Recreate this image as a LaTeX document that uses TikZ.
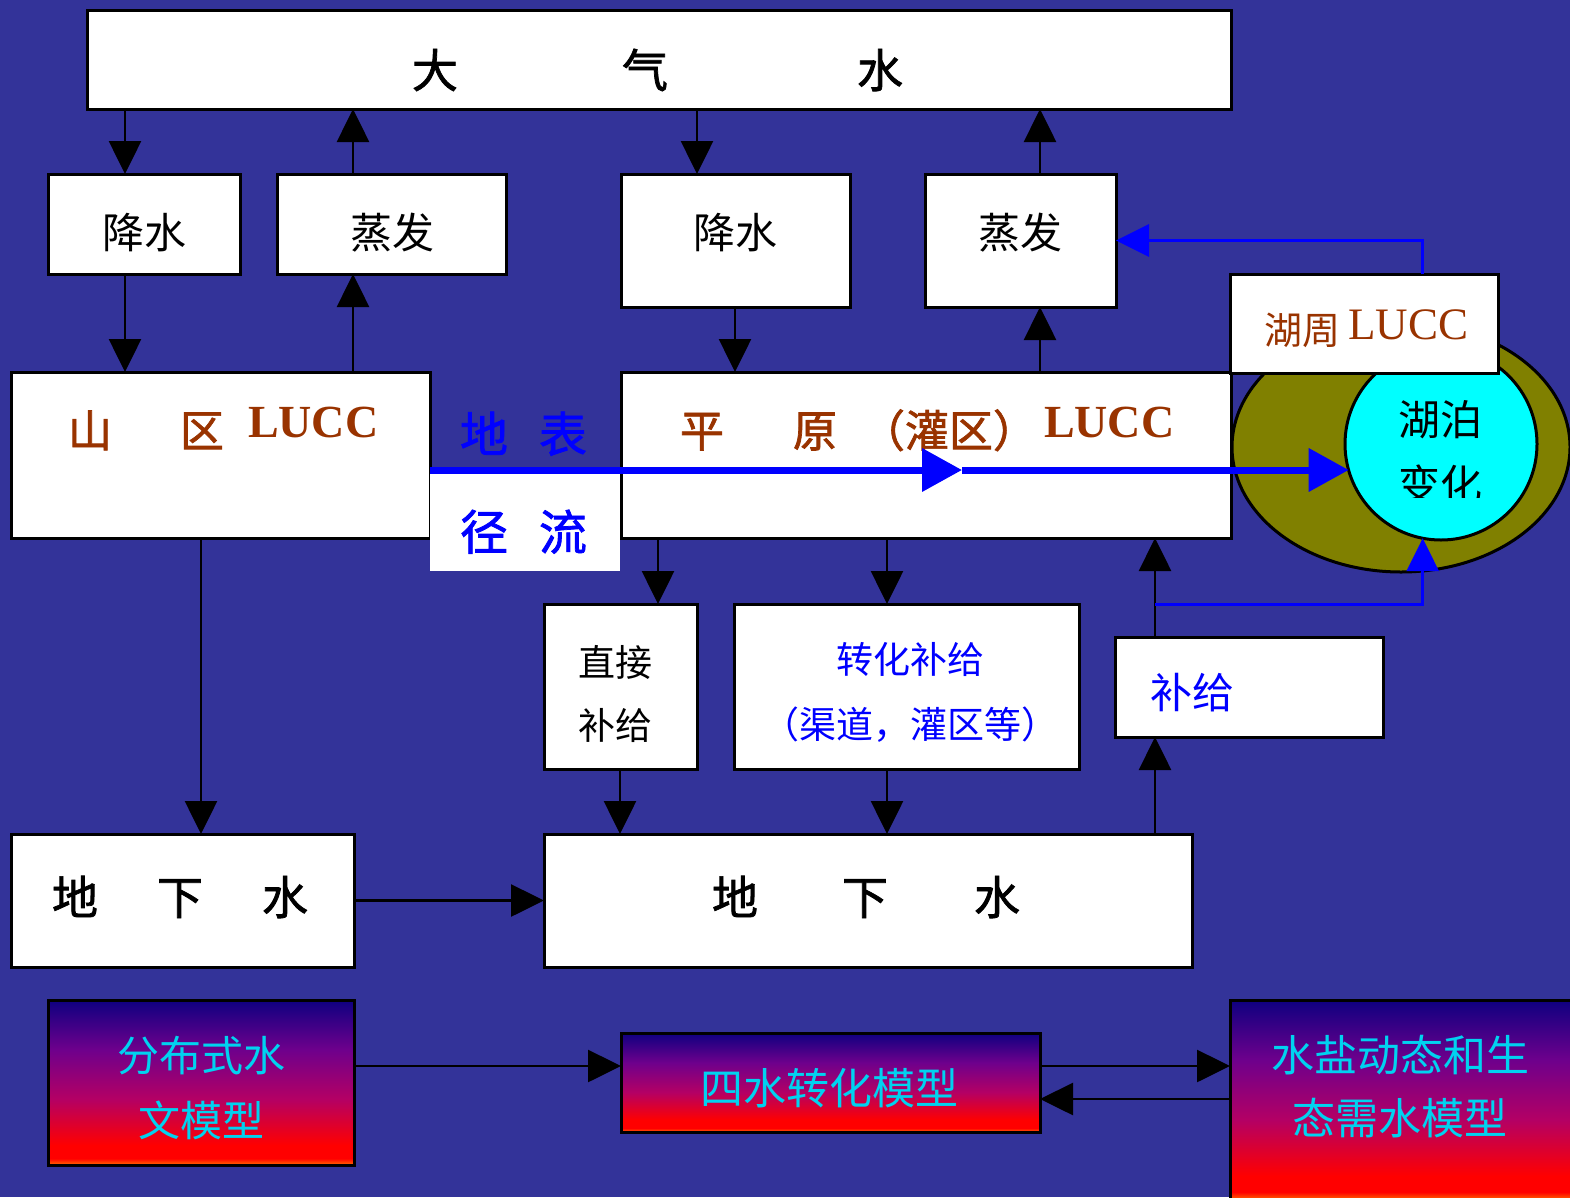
\documentclass[tikz,border=0pt]{standalone}
\usepackage{fontspec}
\setmainfont{Noto Sans CJK SC}
\newfontfamily\cjkb{Noto Sans CJK SC}[FakeBold=1.6]
\newfontfamily\tnr{Liberation Serif}
\usetikzlibrary{arrows.meta}
\definecolor{bg}{RGB}{51,51,153}
\definecolor{brn}{RGB}{153,51,0}
\definecolor{olv}{RGB}{128,128,0}
\definecolor{cyn}{RGB}{0,255,255}
\definecolor{mtxt}{RGB}{0,210,240}
\definecolor{bl}{RGB}{0,0,255}
\definecolor{gN}{RGB}{14,0,128}
\definecolor{gP}{RGB}{110,0,140}
\definecolor{gM}{RGB}{180,0,100}
\definecolor{gR}{RGB}{255,0,0}
\definecolor{gO}{RGB}{255,110,0}
\pgfdeclareverticalshading{modelshade}{100bp}{color(0bp)=(gO); color(25bp)=(gO); color(27bp)=(gR); color(31bp)=(gR); color(45bp)=(gM); color(60bp)=(gP); color(75bp)=(gN); color(100bp)=(gN)}
\newcommand\fsz[2]{\fontsize{#1pt}{#2pt}\selectfont}
\tikzset{
  box/.style={draw=black, fill=white, line width=3pt, inner sep=0pt, outer sep=0pt, rectangle},
  mbox/.style={draw=black, shading=modelshade, line width=3pt, inner sep=0pt, outer sep=0pt, rectangle},
  txt/.style={inner sep=0pt, outer sep=0pt, text=black},
  arr/.style={draw=black, line width=2.6pt, -{Triangle[length=33pt,width=32pt]}},
  barr/.style={draw=bl, line width=3pt, -{Triangle[length=33pt,width=32pt]}},
  tarr/.style={draw=bl, line width=7pt, -{Triangle[length=40pt,width=42pt]}}
}
\begin{document}
\begin{tikzpicture}[x=1pt,y=-1pt]
\useasboundingbox (0,0) rectangle (1570,1197);
\clip (0,0) rectangle (1570,1197);
\fill[bg] (0,0) rectangle (1570,1197);

% lake
\draw[line width=3pt, fill=olv] (1401,447) ellipse [x radius=169, y radius=125];
\node[circle, draw=black, line width=3pt, fill=cyn, minimum size=192pt, inner sep=0pt, outer sep=0pt] (lake) at (1441,444) {};
\begin{scope}
\clip (1345,343) rectangle (1540,497);
\node[txt, font=\fsz{42}{65}, align=center] (lakeT) at (1440,452) {湖泊\\变化};
\end{scope}

% boxes
\node[box, minimum width=1144pt, minimum height=99pt] (atm) at (659,59.5) {};
\node[box, minimum width=192pt, minimum height=100pt] (jsL) at (144,224) {};
\node[box, minimum width=229pt, minimum height=100pt] (zfL) at (391.5,224) {};
\node[box, minimum width=229pt, minimum height=133pt] (jsM) at (735.5,240.5) {};
\node[box, minimum width=191pt, minimum height=133pt] (zfR) at (1020.5,240.5) {};
\node[box, minimum width=419pt, minimum height=166pt] (sq) at (220.5,455) {};
\node[box, minimum width=610pt, minimum height=166pt] (py) at (926,455) {};
\node[fill=white, inner sep=0pt, outer sep=0pt, minimum width=190pt, minimum height=101pt] (jlBox) at (525,520.5) {};
\node[box, minimum width=268pt, minimum height=99pt] (hz) at (1364,323.5) {};
\node[box, minimum width=153pt, minimum height=165pt] (zj) at (620.5,686.5) {};
\node[box, minimum width=345pt, minimum height=165pt] (zh) at (906.5,686.5) {};
\node[box, minimum width=268pt, minimum height=100pt] (bj) at (1249,687) {};
\node[box, minimum width=343pt, minimum height=133pt] (dxL) at (182.5,900.5) {};
\node[box, minimum width=648pt, minimum height=133pt] (dxR) at (868,900.5) {};
\node[mbox, minimum width=306pt, minimum height=165pt] (m1) at (201,1082.5) {};
\node[mbox, minimum width=419pt, minimum height=99pt] (m2) at (830.5,1082.5) {};
\node[mbox, minimum width=350pt, minimum height=200pt] (m3) at (1405,1100) {};

% texts
\node[txt, font=\fsz{46}{50}\cjkb, anchor=west] (atmT) at (412,70) {大\hspace{164pt}气\hspace{189pt}水};
\node[txt, font=\fsz{42}{50}] (jsLT) at (144,233) {降水};
\node[txt, font=\fsz{42}{50}] (zfLT) at (392,233) {蒸发};
\node[txt, font=\fsz{42}{50}] (jsMT) at (735,233) {降水};
\node[txt, font=\fsz{42}{50}] (zfRT) at (1020,233) {蒸发};
\node[txt, text=brn, font=\fsz{44}{50}\cjkb, anchor=base west] (sqT) at (68,447) {山\hspace{68pt}区\hspace{24pt}\raisebox{10pt}{\fsz{46}{50}\tnr\bfseries LUCC}};
\node[txt, text=brn, font=\fsz{44}{50}\cjkb, anchor=base west] (pyT) at (680,447) {平\hspace{69pt}原\hspace{24pt}（灌区）\hspace{7pt}\raisebox{10pt}{\fsz{46}{50}\tnr\bfseries LUCC}};
\node[txt, text=bl, font=\fsz{48}{50}\cjkb, anchor=base west] (dbT) at (460,452) {地\hspace{31pt}表};
\node[txt, text=bl, font=\fsz{48}{50}\cjkb, anchor=base west] (jlT) at (460,550) {径\hspace{31pt}流};
\node[txt, text=brn, font=\fsz{38}{50}, anchor=base west] (hzT) at (1264,344) {湖周\hspace{8pt}\raisebox{5pt}{\fsz{45}{50}\tnr LUCC}};
\node[txt, font=\fsz{37}{63}, align=center] (zjT) at (615,693.5) {直接\\补给};
\node[txt, text=bl, font=\fsz{37}{65}, align=center] (zhT) at (910,692.5) {转化补给\\（渠道，灌区等）};
\node[txt, text=bl, font=\fsz{42}{50}] (bjT) at (1192,693) {补给};
\node[txt, font=\fsz{46}{50}\cjkb, anchor=west] (dxLT) at (52,897) {地\hspace{59pt}下\hspace{59pt}水};
\node[txt, font=\fsz{46}{50}\cjkb, anchor=west] (dxRT) at (712,897) {地\hspace{84pt}下\hspace{86pt}水};
\node[txt, text=mtxt, font=\fsz{42}{65}, align=center] (m1T) at (201,1087.5) {分布式水\\文模型};
\node[txt, text=mtxt, font=\fsz{43}{50}] (m2T) at (829,1088) {四水转化模型};
\node[txt, text=mtxt, font=\fsz{43}{63}, align=center] (m3T) at (1400,1086.5) {水盐动态和生\\态需水模型};

% black arrows
\draw[arr] (125,0 |- atm.south) -- (125,0 |- jsL.north);
\draw[arr] (353,0 |- zfL.north) -- (353,0 |- atm.south);
\draw[arr] (125,0 |- jsL.south) -- (125,0 |- sq.north);
\draw[arr] (353,0 |- sq.north) -- (353,0 |- zfL.south);
\draw[arr] (697,0 |- atm.south) -- (697,0 |- jsM.north);
\draw[arr] (735,0 |- jsM.south) -- (735,0 |- py.north);
\draw[arr] (1040,0 |- py.north) -- (1040,0 |- zfR.south);
\draw[arr] (1040,0 |- zfR.north) -- (1040,0 |- atm.south);
\draw[arr] (201,0 |- sq.south) -- (201,0 |- dxL.north);
\draw[arr] (658,0 |- py.south) -- (658,0 |- zj.north);
\draw[arr] (887,0 |- py.south) -- (887,0 |- zh.north);
\draw[arr] (620,0 |- zj.south) -- (620,0 |- dxR.north);
\draw[arr] (887,0 |- zh.south) -- (887,0 |- dxR.north);
\draw[arr] (1155,0 |- dxR.north) -- (1155,0 |- bj.south);
\draw[arr] (1155,0 |- bj.north) -- (1155,0 |- py.south);
\draw[arr] (dxL.east) -- (dxR.west);
\draw[arr] (m1.east |- 0,1066) -- (m2.west |- 0,1066);
\draw[arr] (m2.east |- 0,1066) -- (m3.west |- 0,1066);
\draw[arr] (m3.west |- 0,1099) -- (m2.east |- 0,1099);

% blue arrows
\coordinate (bjj) at (1155,604);
\draw[barr] (bjj) -| (lake.-101);
\coordinate (hzt) at (1422,274);
\draw[barr] (hzt) |- (zfR.east);
\coordinate (mid) at (962,470);
\draw[tarr] (sq.east |- 0,470) -- (mid);
\draw[tarr] (mid) -- (mid -| lake.196);
\end{tikzpicture}
\end{document}
